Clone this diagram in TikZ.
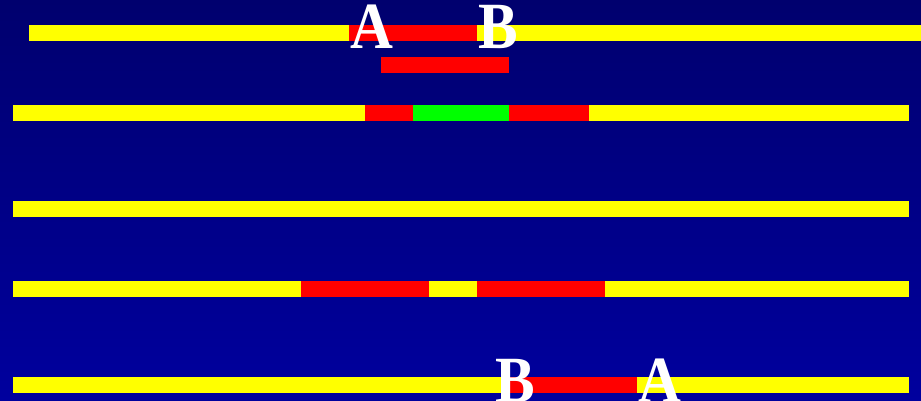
\documentclass[tikz,border=0pt]{standalone}
\usepackage{fontspec}
\newfontfamily\letterfont[FakeStretch=0.9]{Liberation Serif Bold}
\definecolor{bgtop}{RGB}{0,0,110}
\definecolor{bgbot}{RGB}{0,0,158}
\definecolor{barY}{RGB}{255,255,0}
\definecolor{barR}{RGB}{255,0,0}
\definecolor{barG}{RGB}{0,255,0}

\begin{document}
\begin{tikzpicture}[
    x=1pt, y=-1pt,
    yel/.style={fill=barY},
    red/.style={fill=barR},
    grn/.style={fill=barG},
    letter/.style={inner sep=0pt, anchor=base west, text height=44pt, text depth=0pt,
        text=white, font=\letterfont\fontsize{66}{66}\selectfont}
]

    % background
    \useasboundingbox (0,0) rectangle (921,401);
    \shade[top color=bgtop, bottom color=bgbot] (0,0) rectangle (921,401);

    % Row 1
    \fill[yel] (29,25) rectangle (921,41);
    \fill[red] (349,25) rectangle (477,41);
    \node[letter] (A1) at (350,49) {A};
    \node[letter] (B1) at (478,49) {B};
    \fill[red] (381,57) rectangle (509,73);

    % Row 2
    \fill[yel] (13,105) rectangle (909,121);
    \fill[red] (365,105) rectangle (589,121);
    \fill[grn] (413,105) rectangle (509,121);

    % Row 3
    \fill[yel] (13,201) rectangle (909,217);

    % Row 4
    \fill[yel] (13,281) rectangle (909,297);
    \foreach \a/\b in {301/429, 477/605}
        \fill[red] (\a,281) rectangle (\b,297);

    % Row 5
    \fill[yel] (13,377) rectangle (909,393);
    \fill[red] (509,377) rectangle (637,393);
    \node[letter] (B5) at (495,402) {B};
    \node[letter] (A5) at (638,402) {A};

\end{tikzpicture}
\end{document}
